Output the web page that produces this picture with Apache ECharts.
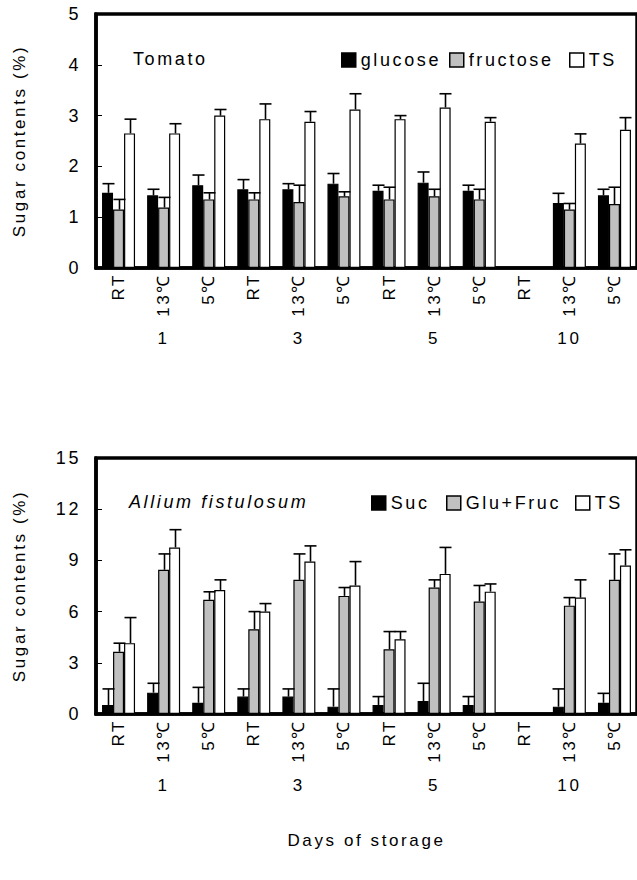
<!DOCTYPE html>
<html>
<head>
<meta charset="utf-8">
<script src="https://cdn.jsdelivr.net/npm/echarts@6/dist/echarts.min.js"></script>
<style>
html,body{margin:0;padding:0;background:#fff;}
#chart{width:637px;height:880px;}
#chart svg text{letter-spacing:2.6px;}
</style>
</head>
<body>
<div id="chart"></div>
<script>
// ---------- data ----------
const categories = ['RT','13℃','5℃','RT','13℃','5℃','RT','13℃','5℃','RT','13℃','5℃'];
const dayLabels = ['','1','','','3','','','5','','','10',''];

const tomYTicks = [0, 5, 1];   // min, max, interval
const aliYTicks = [0, 15, 3];

const tomNames = ['glucose','fructose','TS'];
const aliNames = ['Suc','Glu+Fruc','TS'];

const tomGlucose    = [1.48,1.43,1.63,1.55,1.55,1.66,1.52,1.68,1.52,null,1.28,1.43];
const tomGlucoseSD  = [0.18,0.12,0.20,0.19,0.11,0.20,0.11,0.21,0.11,null,0.19,0.12];
const tomFructose   = [1.15,1.19,1.35,1.35,1.30,1.41,1.35,1.41,1.35,null,1.15,1.26];
const tomFructoseSD = [0.20,0.20,0.13,0.13,0.33,0.09,0.24,0.14,0.20,null,0.12,0.33];
const tomTS         = [2.65,2.65,3.00,2.93,2.88,3.12,2.93,3.16,2.88,null,2.45,2.72];
const tomTSSD       = [0.28,0.19,0.12,0.30,0.20,0.31,0.07,0.27,0.08,null,0.19,0.24];

const aliSuc        = [0.53,1.25,0.66,1.02,1.02,0.43,0.53,0.76,0.53,null,0.43,0.66];
const aliSucSD      = [0.94,0.55,0.90,0.45,0.45,1.04,0.49,1.04,0.49,null,1.04,0.55];
const aliGluFruc    = [3.65,8.45,6.69,4.97,7.86,6.92,3.79,7.41,6.59,null,6.35,7.86];
const aliGluFrucSD  = [0.50,0.93,0.47,1.03,1.52,0.49,1.04,0.45,0.94,null,0.47,1.52];
const aliTS         = [4.15,9.76,7.27,6.00,8.93,7.53,4.38,8.21,7.17,null,6.82,8.70];
const aliTSSD       = [1.50,1.04,0.59,0.47,0.92,1.40,0.45,1.55,0.45,null,1.04,0.92];

// ---------- style ----------
const FONT = 'Liberation Sans';
const BW = 11;           // bar width px
const CAP = 12;          // error cap width
const colors = {black:'#000000', gray:'#c0c0c0', white:'#ffffff'};

function barSeries(name, data, color, gi){
  return {
    name: name, type:'bar', xAxisIndex: gi*2, yAxisIndex: gi,
    data: data, barWidth: BW, barGap: '0%',
    itemStyle:{color: color, borderColor:'#000', borderWidth:1.2},
    emphasis:{disabled:true}, silent:true, z:2
  };
}
function errSeries(vals, sds, slot, gi){
  const data = vals.map((v,i)=> v==null ? [i, null, null] : [i, v, v + sds[i]]);
  return {
    type:'custom', xAxisIndex: gi*2, yAxisIndex: gi, silent:true, z:3,
    data: data,
    renderItem: function(params, api){
      const v = api.value(1), t = api.value(2);
      if (isNaN(v) || isNaN(t)) return null;
      const b = api.coord([api.value(0), v]);
      const tp = api.coord([api.value(0), t]);
      const x = Math.round(b[0] + (slot-1)*BW) + 0.5;
      const st = {stroke:'#000', lineWidth:1.6};
      return {type:'group', children:[
        {type:'line', shape:{x1:x, y1:b[1], x2:x, y2:tp[1]}, style:st},
        {type:'line', shape:{x1:x-CAP/2, y1:tp[1], x2:x+CAP/2, y2:tp[1]}, style:st}
      ]};
    }
  };
}
function catAxis(gi){
  return {
    type:'category', gridIndex: gi, data: categories,
    axisLine:{show:true, lineStyle:{color:'#000', width:3.5}},
    axisTick:{show:false},
    axisLabel:{rotate:90, margin:5, color:'#000', fontSize:17, fontFamily:FONT, interval:0}
  };
}
function dayAxis(gi, off, withName){
  const ax = {
    type:'category', gridIndex: gi, data: dayLabels, position:'bottom', offset: off,
    axisLine:{show:false}, axisTick:{show:false},
    axisLabel:{margin:0, color:'#000', fontSize:17, fontFamily:FONT, interval:0}
  };
  if (withName){
    ax.name = 'Days of storage';
    ax.nameLocation = 'middle';
    ax.nameGap = 55;
    ax.nameTextStyle = {color:'#000', fontSize:17, fontFamily:FONT};
  }
  return ax;
}
function valAxis(gi, ticks){
  return {
    type:'value', gridIndex: gi, min: ticks[0], max: ticks[1], interval: ticks[2],
    name:'Sugar contents (%)', nameLocation:'middle', nameGap:68, nameRotate:90,
    nameTextStyle:{color:'#000', fontSize:17, fontFamily:FONT},
    axisLine:{show:true, lineStyle:{color:'#000', width:3.5}},
    axisTick:{show:true, inside:true, length:6, lineStyle:{color:'#000', width:1}},
    axisLabel:{margin:15, color:'#000', fontSize:18, fontFamily:FONT},
    splitLine:{show:false}
  };
}
function legendItem(name, left, top){
  return {
    data:[name], left:left, top:top, icon:'rect', itemWidth:14, itemHeight:14,
    textStyle:{fontSize:18, color:'#000', fontFamily:FONT, padding:[0,0,0,0]},
    selectedMode:false, itemStyle:{borderColor:'#000', borderWidth:1.5}
  };
}

const chart = echarts.init(document.getElementById('chart'), null, {renderer:'svg'});
chart.setOption({
  animation:false,
  backgroundColor:'#fff',
  title:[
    {text:'Tomato', left:128, top:45, textStyle:{fontSize:18, fontWeight:400, color:'#000', fontFamily:FONT}},
    {text:'Allium fistulosum', left:124, top:488, textStyle:{fontSize:18, fontWeight:400, fontStyle:'italic', color:'#000', fontFamily:FONT}}
  ],
  legend:[
    legendItem(tomNames[0], 336, 46), legendItem(tomNames[1], 444, 46), legendItem(tomNames[2], 564, 46),
    legendItem(aliNames[0], 366, 489), legendItem(aliNames[1], 441, 489), legendItem(aliNames[2], 570, 489)
  ],
  grid:[
    {left:96, top:14, width:546, height:254, show:true, borderColor:'#000', borderWidth:3.5, backgroundColor:'transparent'},
    {left:96, top:458, width:546, height:256, show:true, borderColor:'#000', borderWidth:3.5, backgroundColor:'transparent'}
  ],
  xAxis:[catAxis(0), dayAxis(0, 62, false), catAxis(1), dayAxis(1, 63, true)],
  yAxis:[valAxis(0, tomYTicks), valAxis(1, aliYTicks)],
  series:[
    barSeries(tomNames[0], tomGlucose, colors.black, 0),
    barSeries(tomNames[1], tomFructose, colors.gray, 0),
    barSeries(tomNames[2], tomTS, colors.white, 0),
    errSeries(tomGlucose, tomGlucoseSD, 0, 0),
    errSeries(tomFructose, tomFructoseSD, 1, 0),
    errSeries(tomTS, tomTSSD, 2, 0),
    barSeries(aliNames[0], aliSuc, colors.black, 1),
    barSeries(aliNames[1], aliGluFruc, colors.gray, 1),
    barSeries(aliNames[2], aliTS, colors.white, 1),
    errSeries(aliSuc, aliSucSD, 0, 1),
    errSeries(aliGluFruc, aliGluFrucSD, 1, 1),
    errSeries(aliTS, aliTSSD, 2, 1)
  ]
});
</script>
</body>
</html>
